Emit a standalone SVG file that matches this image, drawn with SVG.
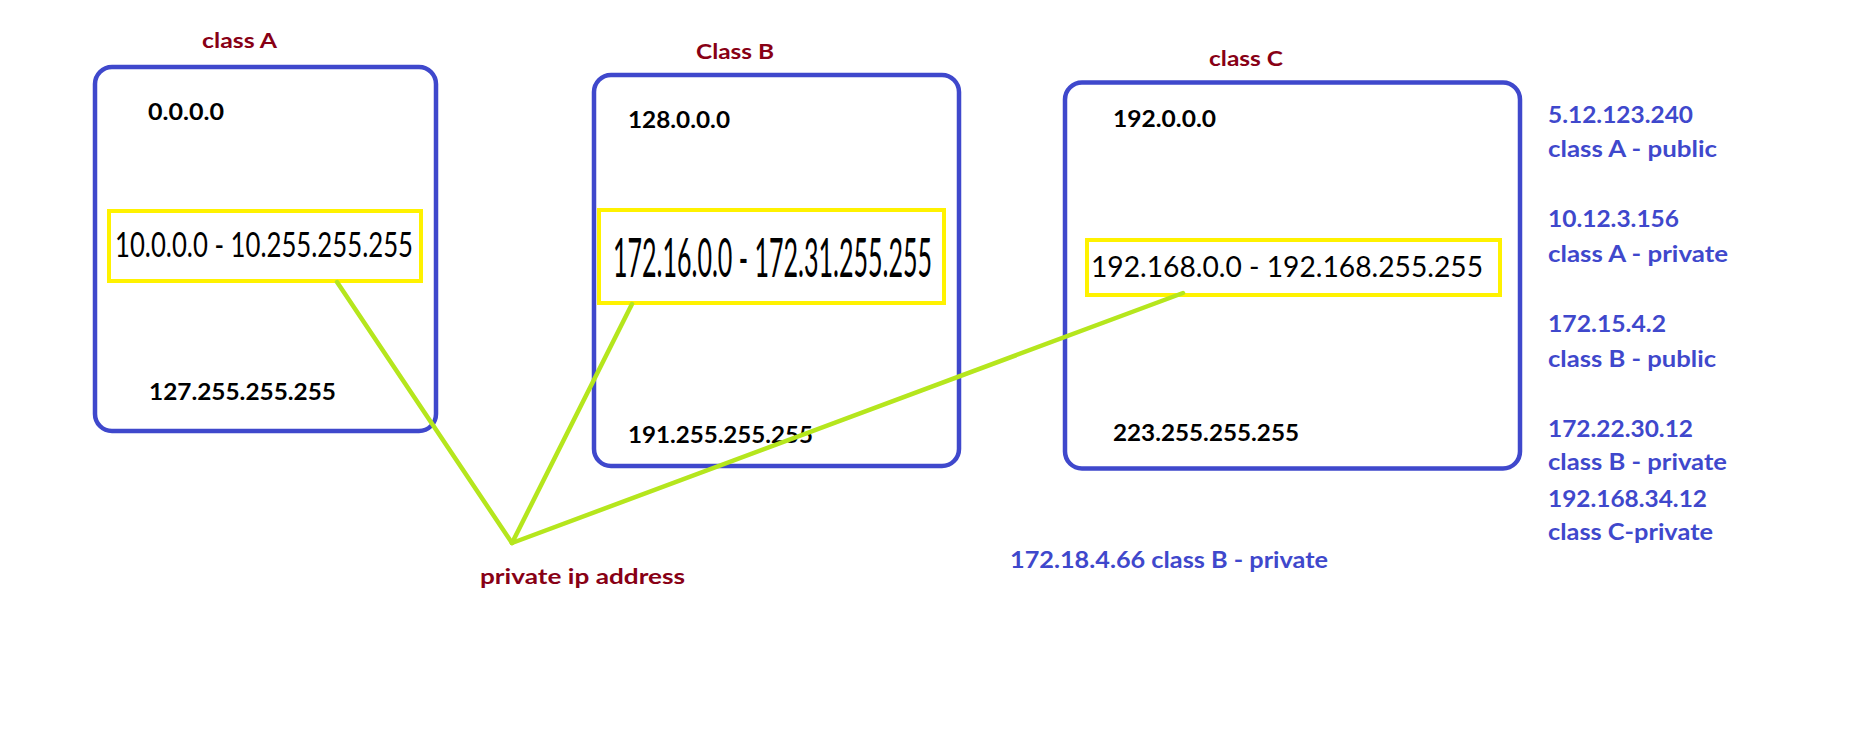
<svg xmlns="http://www.w3.org/2000/svg" width="1852" height="743" viewBox="0 0 1852 743">
<style>
.box{fill:none;stroke:#3F48CC;stroke-width:4.5}
.ybox{fill:none;stroke:#FFF200;stroke-width:4}
.title{font-family:Lato,"Liberation Sans",sans-serif;font-weight:bold;font-size:21px;fill:#880015}
.ip{font-family:Lato,"Liberation Sans",sans-serif;font-weight:bold;font-size:23px;fill:#000}
.rng{font-family:Lato,"Liberation Sans",sans-serif;font-weight:normal;fill:#000}
.note{font-family:Lato,"Liberation Sans",sans-serif;font-weight:bold;font-size:23px;fill:#3F48CC}
.link{stroke:#B5E61D;stroke-width:4.5;fill:none;stroke-linecap:round}
</style>
<defs>
<clipPath id="clipBottom"><rect x="0" y="0" width="1852" height="543"/></clipPath>
</defs>
<rect width="1852" height="743" fill="#fff"/>

<g id="classA">
<text class="title" x="202" y="48" textLength="75" lengthAdjust="spacingAndGlyphs">class A</text>
<rect class="box" x="95" y="67" width="341" height="364" rx="17"/>
<text class="ip" x="148" y="120" textLength="76" lengthAdjust="spacingAndGlyphs">0.0.0.0</text>
<rect class="ybox" x="109" y="211" width="312" height="70"/>
<text class="rng" x="115" y="257" font-size="34" textLength="298" lengthAdjust="spacingAndGlyphs">10.0.0.0 - 10.255.255.255</text>
<text class="ip" x="149" y="400" textLength="187" lengthAdjust="spacingAndGlyphs">127.255.255.255</text>
</g>

<g id="classB">
<text class="title" x="696" y="59" textLength="78" lengthAdjust="spacingAndGlyphs">Class B</text>
<rect class="box" x="594" y="75" width="365" height="391" rx="17"/>
<text class="ip" x="628" y="128" textLength="102" lengthAdjust="spacingAndGlyphs">128.0.0.0</text>
<rect class="ybox" x="599" y="210" width="345" height="93"/>
<text class="rng" x="613" y="277" font-size="54" textLength="319" lengthAdjust="spacingAndGlyphs">172.16.0.0 - 172.31.255.255</text>
<text class="ip" x="628" y="443" textLength="185" lengthAdjust="spacingAndGlyphs">191.255.255.255</text>
</g>

<g id="classC">
<text class="title" x="1209" y="66" textLength="74" lengthAdjust="spacingAndGlyphs">class C</text>
<rect class="box" x="1065" y="82.5" width="455" height="386" rx="17"/>
<text class="ip" x="1113" y="127" textLength="103" lengthAdjust="spacingAndGlyphs">192.0.0.0</text>
<rect class="ybox" x="1087" y="240" width="413" height="55"/>
<text class="rng" x="1091" y="277" font-size="28" textLength="392" lengthAdjust="spacingAndGlyphs">192.168.0.0 - 192.168.255.255</text>
<text class="ip" x="1113" y="441" textLength="186" lengthAdjust="spacingAndGlyphs">223.255.255.255</text>
</g>

<g id="connectors">
<line class="link" x1="337" y1="282" x2="512" y2="543"/>
<line class="link" x1="632" y1="304" x2="512" y2="543"/>
<line class="link" x1="1183" y1="293" x2="512" y2="543"/>
</g>

<g id="privateLabel">
<text class="title" x="480" y="584" font-size="22" textLength="205" lengthAdjust="spacingAndGlyphs">private ip address</text>
</g>

<g id="example">
<text class="note" x="1010" y="568" font-size="24" textLength="318" lengthAdjust="spacingAndGlyphs">172.18.4.66 class B - private</text>
</g>

<g id="notes" clip-path="url(#clipBottom)">
<text class="note" x="1548" y="123" textLength="145" lengthAdjust="spacingAndGlyphs">5.12.123.240</text>
<text class="note" x="1548" y="157" textLength="169" lengthAdjust="spacingAndGlyphs">class A - public</text>
<text class="note" x="1548" y="227" textLength="131" lengthAdjust="spacingAndGlyphs">10.12.3.156</text>
<text class="note" x="1548" y="262" textLength="180" lengthAdjust="spacingAndGlyphs">class A - private</text>
<text class="note" x="1548" y="332" textLength="118" lengthAdjust="spacingAndGlyphs">172.15.4.2</text>
<text class="note" x="1548" y="367" textLength="168" lengthAdjust="spacingAndGlyphs">class B - public</text>
<text class="note" x="1548" y="437" textLength="145" lengthAdjust="spacingAndGlyphs">172.22.30.12</text>
<text class="note" x="1548" y="470" textLength="179" lengthAdjust="spacingAndGlyphs">class B - private</text>
<text class="note" x="1548" y="507" textLength="159" lengthAdjust="spacingAndGlyphs">192.168.34.12</text>
<text class="note" x="1548" y="540" textLength="165" lengthAdjust="spacingAndGlyphs">class C-private</text>
</g>
</svg>
